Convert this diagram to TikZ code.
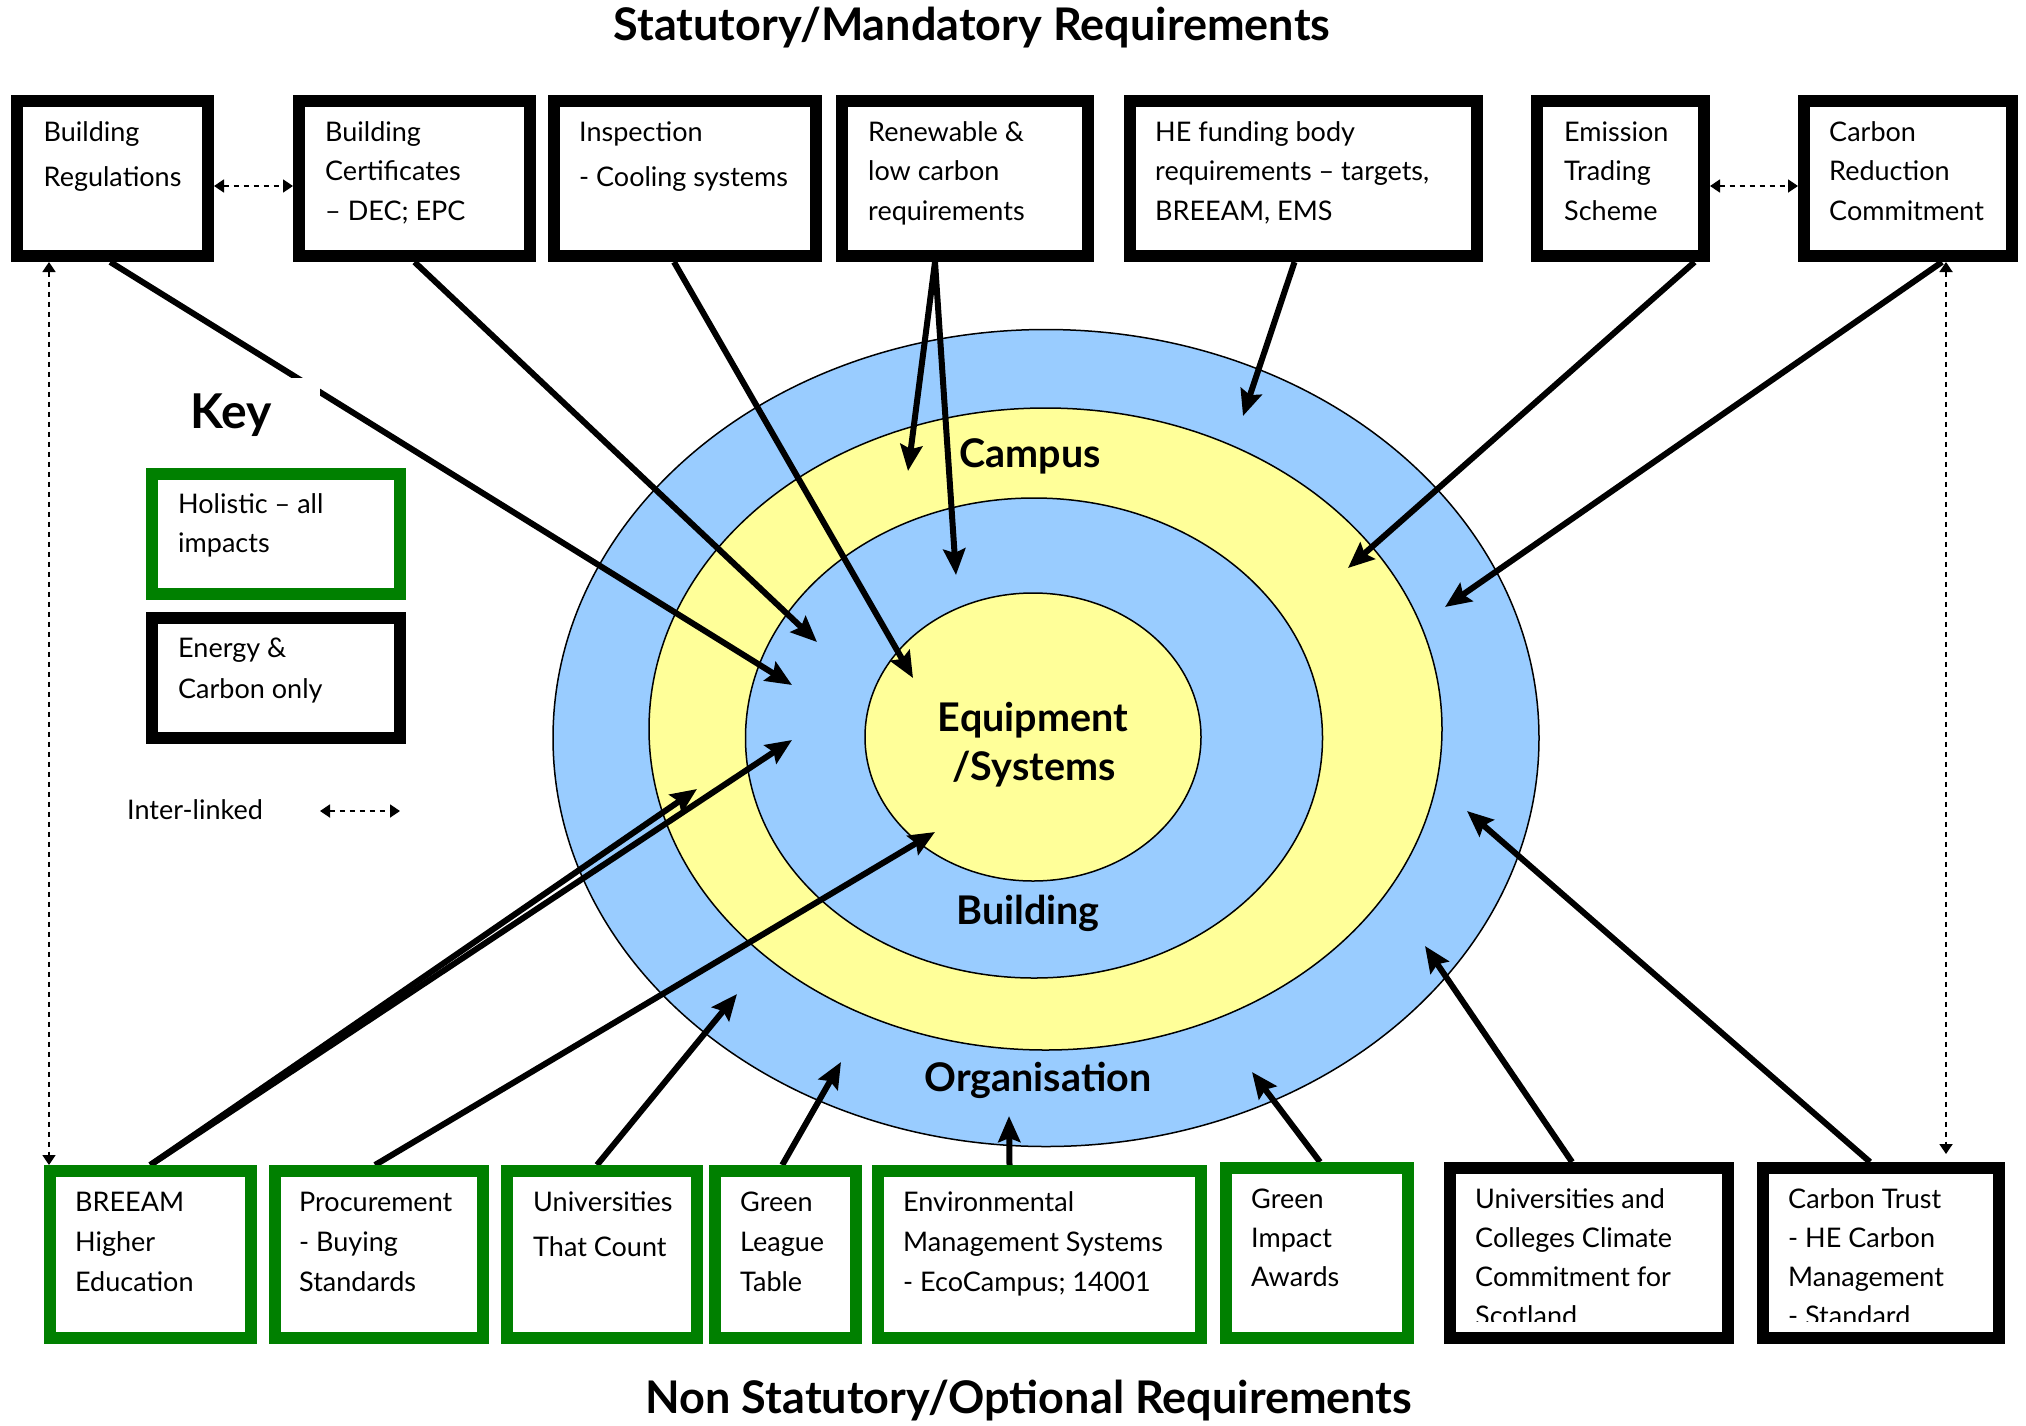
\documentclass[tikz,border=0pt]{standalone}
\usepackage{fontspec}
\setmainfont{Lato}
\usetikzlibrary{arrows.meta}
\definecolor{ringblue}{HTML}{99CCFF}
\definecolor{ringyellow}{HTML}{FFFF99}
\definecolor{holgreen}{HTML}{008000}
\pgfdeclarelayer{under}
\pgfsetlayers{under,main}

% framed panel: name, style, left, top, right, bottom (outer edges)
\newcommand\panel[6]{\node[#2, minimum width={#5-#3-12}, minimum height={#6-#4-12}] (#1) at ({(#3+#5)/2},{(#4+#6)/2}) {};}
% panel text: name, left x, first baseline, line skip, lines
\newcommand\paneltext[5]{\node[btxt, font=\fontsize{27}{#4}\selectfont, yshift={0.7*#4}] (#1) at (#2,#3) {\strut #5};}

\begin{document}
\begin{tikzpicture}[x=1pt,y=-1pt,
  hardbox/.style={draw=black, line width=12pt, fill=white, inner sep=0pt},
  softbox/.style={draw=holgreen, line width=12pt, fill=white, inner sep=0pt},
  btxt/.style={anchor=north west, inner sep=0pt, align=left},
  ring/.style={draw=black, line width=1.5pt},
  ringlbl/.style={anchor=base, inner sep=0pt, font=\fontsize{39.5}{44}\selectfont\bfseries},
  hdr/.style={anchor=base, inner sep=0pt, font=\fontsize{45}{50}\selectfont\bfseries},
  push/.style={line width=6pt, -{Stealth[length=26pt, width=22pt, inset=4pt]}},
  link/.style={line width=1.8pt, dash pattern=on 5pt off 5pt,
    {Triangle[length=10pt, width=13pt]}-{Triangle[length=10pt, width=13pt]}}
]
\useasboundingbox (0,0) rectangle (2026,1425);

% headings
\node[hdr] (stat) at (972,40) {Statutory/Mandatory Requirements};
\node[hdr] (nonstat) at (1029,1413) {Non Statutory/Optional Requirements};

% statutory requirements (top row)
\panel{reg}{hardbox}{10.5}{95}{214}{262}
\panel{cert}{hardbox}{293}{95}{536}{262}
\panel{insp}{hardbox}{548}{95}{822}{262}
\panel{renew}{hardbox}{836}{95}{1094}{262}
\panel{hefb}{hardbox}{1124}{95}{1483}{262}
\panel{ets}{hardbox}{1531}{95}{1710}{262}
\panel{crc}{hardbox}{1798}{95}{2018}{262}

% optional requirements (bottom row)
\panel{breeam}{softbox}{43.5}{1165}{257}{1344}
\panel{proc}{softbox}{269}{1165}{489}{1344}
\panel{utc}{softbox}{501}{1165}{703}{1344}
\panel{glt}{softbox}{709}{1165}{861.5}{1344}
\panel{ems}{softbox}{872}{1165}{1207}{1344}
\panel{gia}{softbox}{1220}{1162}{1414}{1344}
\panel{uccc}{hardbox}{1444}{1162}{1734}{1344}
\panel{ct}{hardbox}{1757}{1162}{2005}{1344}

\begin{pgfonlayer}{under}
\fill[white] (0,0) rectangle (2026,1425);
% nested scope rings
\draw[ring, fill=ringblue]   (1046,738) ellipse [x radius=493pt, y radius=408.5pt];
\draw[ring, fill=ringyellow] (1045.5,729) ellipse [x radius=396.5pt, y radius=321pt];
\draw[ring, fill=ringblue]   (1034,738) ellipse [x radius=288.5pt, y radius=240pt];
\draw[ring, fill=ringyellow] (1033,737) ellipse [x radius=168pt, y radius=144pt];

\node[ringlbl] (campus) at (1030,467) {Campus};
\node[ringlbl] (equip) at (1033,731) {Equipment};
\node[ringlbl] (systems) at (1034,780) {/Systems};
\node[ringlbl] (bldg) at (1028,924) {Building};
\node[ringlbl] (org) at (1038,1091) {Organisation};

% arrow targets inside the rings
\coordinate (t-reg) at (792,685);
\coordinate (t-cert) at (817,642);
\coordinate (t-insp) at (913,678);
\coordinate (t-ren1) at (908,471);
\coordinate (t-ren2) at (956,575);
\coordinate (t-hefb) at (1243,416);
\coordinate (t-ets) at (1348,568);
\coordinate (t-crc) at (1445,607);
\coordinate (t-bre1) at (697,789);
\coordinate (t-bre2) at (792,740);
\coordinate (t-proc) at (935,832);
\coordinate (t-utc) at (737,994);
\coordinate (t-glt) at (841,1062);
\coordinate (t-ems) at (1009,1116);
\coordinate (t-gia) at (1252,1072);
\coordinate (t-uccc) at (1425,946);
\coordinate (t-ct) at (1467,811);

% influences on the rings
\draw[push] ([xshift=-2pt]reg.south) -- (t-reg);
\draw[push] (cert.south) -- (t-cert);
\draw[push] ([xshift=-11pt]insp.south) -- (t-insp);
\draw[push] ([xshift=-30pt]renew.south) -- (t-ren1);
\draw[push] ([xshift=-30pt]renew.south) -- (t-ren2);
\draw[push] ([xshift=-9pt]hefb.south) -- (t-hefb);
\draw[push] ([xshift=74pt]ets.south) -- (t-ets);
\draw[push] ([xshift=34pt]crc.south) -- (t-crc);
\draw[push] (breeam.north) -- (t-bre1);
\draw[push] (breeam.north) -- (t-bre2);
\draw[push] ([xshift=-4pt]proc.north) -- (t-proc);
\draw[push] ([xshift=-5pt]utc.north) -- (t-utc);
\draw[push] ([xshift=-3pt]glt.north) -- (t-glt);
\draw[push] ([xshift=-30pt]ems.north) -- (t-ems);
\draw[push] ([xshift=3pt]gia.north) -- (t-gia);
\draw[push] ([xshift=-17pt]uccc.north) -- (t-uccc);
\draw[push] ([xshift=-11pt]ct.north) -- (t-ct);
\end{pgfonlayer}

% panel texts
\paneltext{reg-t}{43.5}{141}{45}{Building\\Regulations}
\paneltext{cert-t}{325}{141}{39.5}{Building\\Certificates\\– DEC; EPC}
\paneltext{insp-t}{579}{141}{45}{Inspection\\- Cooling systems}
\paneltext{renew-t}{868}{141}{39.5}{Renewable \&\\low carbon\\requirements}
\paneltext{hefb-t}{1155}{141}{39.5}{HE funding body\\requirements – targets,\\BREEAM, EMS}
\paneltext{ets-t}{1564}{141}{39.5}{Emission\\Trading\\Scheme}
\paneltext{crc-t}{1829}{141}{39.5}{Carbon\\Reduction\\Commitment}

\paneltext{breeam-t}{75}{1211}{40}{BREEAM\\Higher\\Education}
\paneltext{proc-t}{299}{1211}{40}{Procurement\\- Buying\\Standards}
\paneltext{utc-t}{533}{1211}{45}{Universities\\That Count}
\paneltext{glt-t}{740}{1211}{40}{Green\\League\\Table}
\paneltext{ems-t}{903}{1211}{40}{Environmental\\Management Systems\\- EcoCampus; 14001}
\paneltext{gia-t}{1251}{1208.5}{39}{Green\\Impact\\Awards}
\begin{scope}
\clip (uccc.north west) rectangle ([yshift=23pt]uccc.south east);
\paneltext{uccc-t}{1475}{1208.5}{39}{Universities and\\Colleges Climate\\Commitment for\\Scotland}
\end{scope}
\begin{scope}
\clip (ct.north west) rectangle ([yshift=23pt]ct.south east);
\paneltext{ct-t}{1788}{1208.5}{39}{Carbon Trust\\- HE Carbon\\Management\\- Standard}
\end{scope}

% links between related schemes
\draw[link] ([yshift=-7.5pt]reg.east) -- ([yshift=-7.5pt]cert.west);
\draw[link] ([yshift=-7.5pt]ets.east) -- ([yshift=-7.5pt]crc.west);
\draw[link] ([xshift=38.5pt]reg.south west) -- ([xshift=5.5pt]breeam.north west);
\draw[link, shorten >=8pt] ([xshift=148pt]crc.south west) -- ([xshift=189pt]ct.north west);

% key
\node[anchor=base west, fill=white, inner xsep=50pt, inner ysep=0pt, text width=80pt,
  text height=50pt, text depth=20pt, align=left,
  font=\fontsize{48}{52}\selectfont\bfseries] (key) at (140,428) {Key};
\panel{kh}{softbox}{146}{468}{406}{600}
\panel{ke}{hardbox}{146}{612}{406}{744}
\paneltext{kh-t}{178}{513}{39}{Holistic – all\\impacts}
\paneltext{ke-t}{178}{657}{41}{Energy \&\\Carbon only}
\node[anchor=base west, inner sep=0pt, font=\fontsize{27}{30}\selectfont] (ilk) at (127,819) {Inter-linked};
\coordinate (ilk-a) at (320,811);
\coordinate (ilk-b) at (400,811);
\draw[link] (ilk-a) -- (ilk-b);
\end{tikzpicture}
\end{document}
